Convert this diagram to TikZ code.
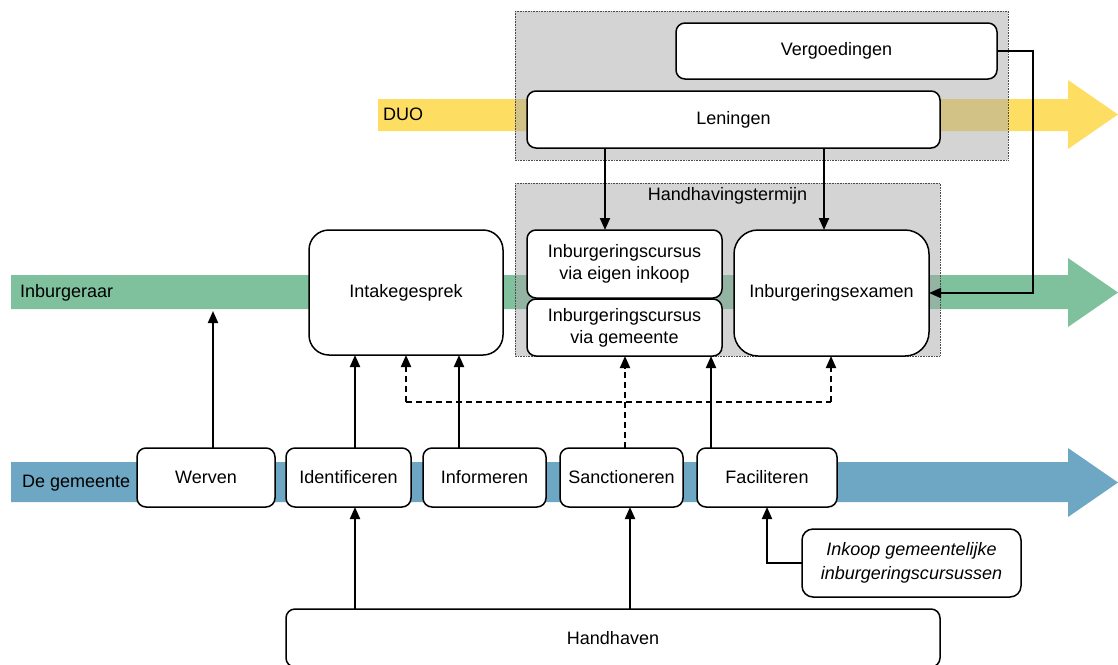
\documentclass[tikz,border=0pt]{standalone}
\usepackage{fontspec}
\setmainfont{Liberation Sans}
\usetikzlibrary{arrows.meta}
\definecolor{duoyellow}{RGB}{254,221,99}
\definecolor{inbgreen}{RGB}{127,193,157}
\definecolor{gemblue}{RGB}{110,167,195}
\definecolor{boxgray}{RGB}{169,169,169}
\tikzset{
  box/.style={draw=black, line width=1.5pt, rounded corners=9pt, fill=white,
    inner sep=0pt, outer sep=0pt, align=center, font=\fontsize{18}{22}\selectfont},
  conn/.style={line width=2pt, -{Triangle[length=12pt,width=10pt]}},
  dconn/.style={conn, dash pattern=on 6pt off 4pt},
  dline/.style={line width=2pt, dash pattern=on 6pt off 4pt},
  grp/.style={fill=boxgray, fill opacity=0.5, draw=gray!60!black, line width=0.7pt,
    dash pattern=on 0.8pt off 0.8pt},
  lbl/.style={inner sep=0pt, anchor=west, font=\fontsize{18}{22}\selectfont},
}
\begin{document}
\begin{tikzpicture}[x=1pt,y=-1pt]
\useasboundingbox (0,0) rectangle (1118,664);
% bands
\fill[duoyellow] (378,99) -- (1068,99) -- (1068,80) -- (1118,114.5) -- (1068,149) -- (1068,131) -- (378,131) -- cycle;
\fill[inbgreen] (11,275) -- (1068,275) -- (1068,258) -- (1118,292.5) -- (1068,327) -- (1068,309) -- (11,309) -- cycle;
\fill[gemblue] (11,462) -- (1068,462) -- (1068,448) -- (1118,482.5) -- (1068,517) -- (1068,502) -- (11,502) -- cycle;
\node[lbl] (tduo) at (383,114.5) {DUO};
\node[lbl] (tinb) at (20,292.5) {Inburgeraar};
\node[lbl] (tgem) at (22,483) {De gemeente};
% group boxes
\path[grp] (515,11) rectangle (1008,160);
\path[grp] (515,183) rectangle (940,356);
\node[inner sep=0pt, font=\fontsize{18}{22}\selectfont] (tht) at (727.5,196) {Handhavingstermijn};
% nodes
\node[box, minimum width=321pt, minimum height=56pt] (verg) at (836.5,51) {Vergoedingen};
\node[box, minimum width=413pt, minimum height=57pt] (len) at (733.5,119.5) {Leningen};
\node[box, minimum width=195pt, minimum height=68pt] (eig) at (624.5,264) {Inburgeringscursus\\via eigen inkoop};
\node[box, minimum width=195pt, minimum height=57pt] (viag) at (624.5,327.5) {Inburgeringscursus\\via gemeente};
\node[box, rounded corners=24pt, minimum width=195pt, minimum height=126pt] (exam) at (831.5,293) {Inburgeringsexamen};
\node[box, rounded corners=20pt, minimum width=194pt, minimum height=125pt] (intk) at (406,292.5) {Intakegesprek};
\node[box, minimum width=138pt, minimum height=59pt] (wer) at (206,477.5) {Werven};
\node[box, minimum width=125pt, minimum height=59pt] (ident) at (348.5,477.5) {Identificeren};
\node[box, minimum width=123pt, minimum height=59pt] (inform) at (484.5,477.5) {Informeren};
\node[box, minimum width=123pt, minimum height=59pt] (sanc) at (621.5,477.5) {Sanctioneren};
\node[box, minimum width=140pt, minimum height=59pt] (fac) at (767,477.5) {Faciliteren};
\node[box, rounded corners=11pt, minimum width=219pt, minimum height=68pt, font=\fontsize{18}{24}\itshape] (ink) at (911.5,563) {Inkoop gemeentelijke\\inburgeringscursussen};
\node[box, minimum width=654pt, minimum height=58pt] (hh) at (613,638) {Handhaven};
% helper coordinates
\coordinate (xA) at (605,0);
\coordinate (xB) at (824,0);
\coordinate (xV) at (1033,0);
\coordinate (wtip) at (213,311);
\coordinate (xI) at (355,0);
\coordinate (xJ) at (459,0);
\coordinate (xF) at (711,0);
\coordinate (xS) at (630,0);
\coordinate (xD) at (625,0);
\coordinate (dl) at (406,402);
\coordinate (dr) at (831,402);
% connectors
\draw[conn] (len.south -| xA) -- (eig.north -| xA);
\draw[conn] (len.south -| xB) -- (exam.north -| xB);
\draw[conn] (verg.east) -- (verg.east -| xV) -- (exam.east -| xV) -- (exam.east);
\draw[conn] (wer.north -| wtip) -- (wtip);
\draw[conn] (ident.north -| xI) -- (intk.south -| xI);
\draw[conn] (inform.north -| xJ) -- (intk.south -| xJ);
\draw[conn] (fac.north -| xF) -- (viag.south -| xF);
\draw[conn] (hh.north -| xI) -- (ident.south -| xI);
\draw[conn] (hh.north -| xS) -- (sanc.south -| xS);
\draw[conn] (ink.west) -| (fac.south);
\draw[dconn] (sanc.north -| xD) -- (viag.south -| xD);
\draw[dline] (dl) -- (dr);
\draw[dconn] (dl) -- (intk.south -| dl);
\draw[dconn] (dr) -- (exam.south -| dr);
\end{tikzpicture}
\end{document}
